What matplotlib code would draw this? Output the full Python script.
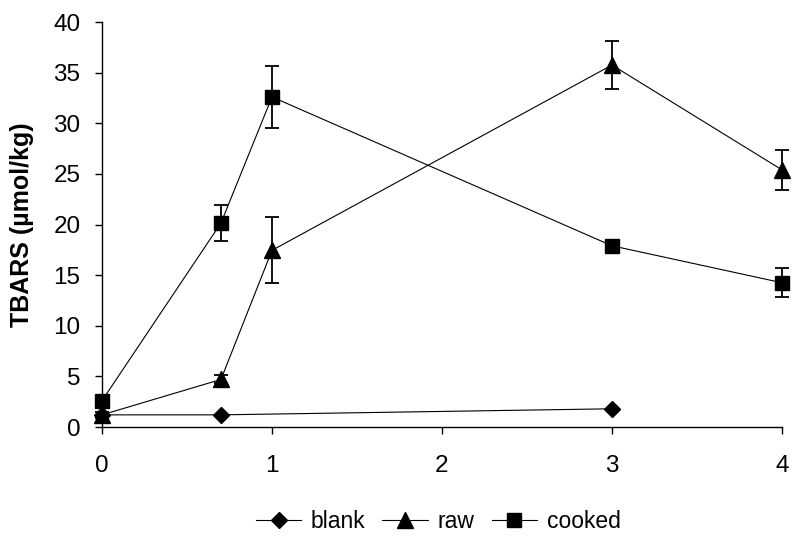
import matplotlib
matplotlib.use("Agg")
import matplotlib.pyplot as plt

plt.rcParams['font.family'] = ['Liberation Sans', 'DejaVu Sans']

# Data
blank_x = [0, 0.7, 3]
blank_y = [1.2, 1.2, 1.8]

raw_x = [0, 0.7, 1, 3, 4]
raw_y = [1.2, 4.7, 17.45, 35.75, 25.4]
raw_err = [0.3, 0.4, 3.25, 2.35, 2.0]

cooked_x = [0, 0.7, 1, 3, 4]
cooked_y = [2.6, 20.15, 32.6, 17.9, 14.25]
cooked_err = [0.3, 1.8, 3.1, 0.5, 1.45]

x_ticks = [0, 1, 2, 3, 4]
y_ticks = [0, 5, 10, 15, 20, 25, 30, 35, 40]

fig = plt.figure(figsize=(7.95, 5.41), dpi=100)
ax = fig.add_axes([0.1283, 0.2107, 0.9836 - 0.1283, 0.9593 - 0.2107])

lw = 0.8
blank_line, = ax.plot(blank_x, blank_y, color='black', lw=lw, marker='D', markersize=8,
                      clip_on=False, label='blank', zorder=3)
raw_c = ax.errorbar(raw_x, raw_y, yerr=raw_err, color='black', lw=lw, marker='^',
                    markersize=11, elinewidth=1.3, capsize=5, capthick=1.3,
                    clip_on=False, label='raw', zorder=3)
cooked_c = ax.errorbar(cooked_x, cooked_y, yerr=cooked_err, color='black', lw=lw, marker='s',
                       markersize=10, elinewidth=1.3, capsize=5, capthick=1.3,
                       clip_on=False, label='cooked', zorder=3)

ax.set_xlim(0, 4)
ax.set_ylim(0, 40)
ax.set_xticks(x_ticks)
ax.set_yticks(y_ticks)
ax.tick_params(axis='both', labelsize=17.5, direction='out', length=5, width=1)
ax.tick_params(axis='y', pad=10.5)
ax.tick_params(axis='x', pad=15)
for s in ['top', 'right']:
    ax.spines[s].set_visible(False)
for s in ['left', 'bottom']:
    ax.spines[s].set_linewidth(1)

ax.set_ylabel('TBARS (µmol/kg)', fontsize=18, fontweight='bold', labelpad=14)

handles = [blank_line, raw_c.lines[0], cooked_c.lines[0]]
labels = ['blank', 'raw', 'cooked']
leg = fig.legend(handles, labels, loc='center', bbox_to_anchor=(438 / 795, 1 - 522 / 541),
                 ncol=3, frameon=False, fontsize=16.5, handlelength=2.0,
                 columnspacing=0.75, handletextpad=0.4, borderpad=0)

fig.savefig('out.png', dpi=100)
